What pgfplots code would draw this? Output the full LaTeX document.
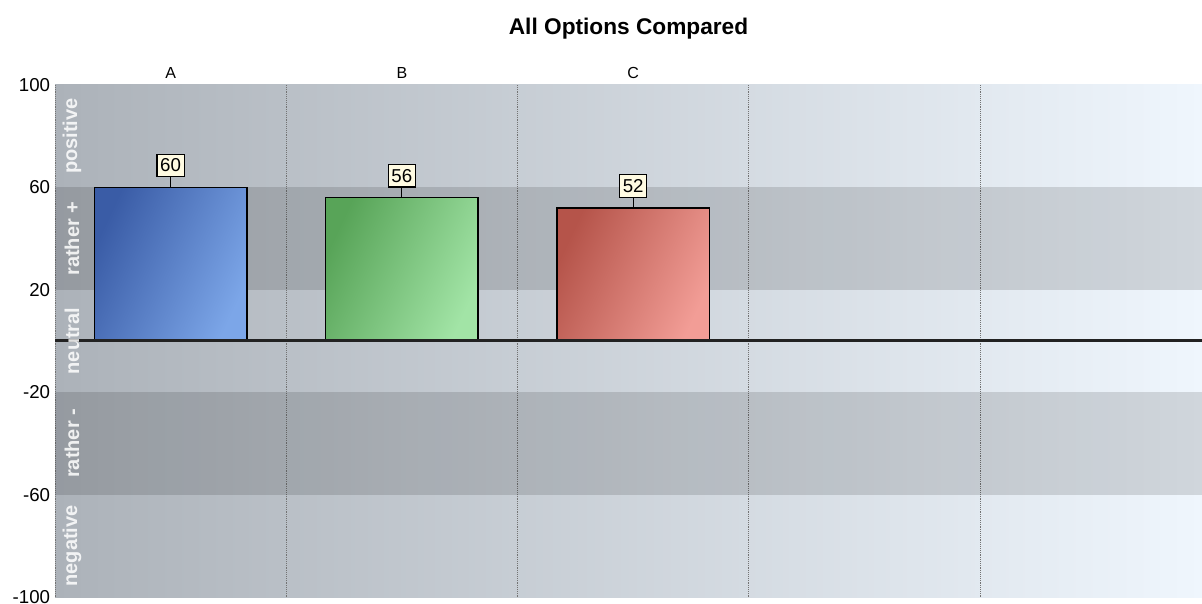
\documentclass[border=0pt]{standalone}
\usepackage{pgfplots}
\pgfplotsset{compat=1.18}
\usepackage{fontspec}
\setmainfont{Liberation Sans}
\definecolor{bgL}{HTML}{ACB2B9}
\definecolor{bgR}{HTML}{EFF6FD}
\definecolor{blueA}{HTML}{3A5CA6}
\definecolor{blueB}{HTML}{7CA6E8}
\definecolor{greenA}{HTML}{58A458}
\definecolor{greenB}{HTML}{A2E4A6}
\definecolor{redA}{HTML}{B5544A}
\definecolor{redB}{HTML}{F29D96}
\definecolor{cream}{HTML}{FFFBE2}
\definecolor{zeroline}{HTML}{222222}
\begin{document}
\begin{tikzpicture}
\useasboundingbox (-41.25pt,-4.5pt) rectangle (860.25pt,447.75pt);
\begin{axis}[
  at={(0pt,0pt)}, anchor=south west,
  scale only axis, width=860.25pt, height=384pt,
  xmin=0, xmax=4.96, ymin=-100, ymax=100,
  axis line style={draw=none},
  axis background/.style={shade, left color=bgL, right color=bgR},
  ytick={-100,-60,-20,20,60,100},
  xtick={0.5,1.5,2.5}, xticklabels={A,B,C},
  xticklabel pos=top,
  major tick length=0pt, minor tick length=0pt,
  minor xtick={0,1,2,3,4},
  xminorgrids,
  minor grid style={densely dotted, color=black!55, line width=0.75pt},
  /pgf/number format/assume math mode=true,
  yticklabel style={font=\fontsize{14}{16}\selectfont, inner sep=0pt, xshift=-3.5pt},
  xticklabel style={font=\fontsize{12}{14}\selectfont, inner sep=0pt, anchor=south, yshift=4.5pt},
  title={\bfseries All Options Compared},
  title style={font=\fontsize{17}{20}\selectfont, at={(0.5,1)}, anchor=center, yshift=36pt},
  clip=false,
  nodes near coords style={font=\fontsize{14}{16}\selectfont},
  every node near coord/.append style={
    draw=black, fill=cream, line width=0.9pt,
    inner xsep=2.5pt, inner ysep=0pt, minimum height=17pt,
    anchor=south, yshift=7.5pt
  },
  error bars/y dir=plus, error bars/y explicit,
  error bars/error mark=none,
  error bars/error bar style={black, line width=0.9pt},
]
% bands
\fill[black, opacity=0.13] (axis cs:0,20) rectangle (axis cs:4.96,60);
\fill[black, opacity=0.13] (axis cs:0,-60) rectangle (axis cs:4.96,-20);

% bars (stem of the value box drawn as an error bar of 3.9 units)
\addplot[ybar, bar width=0.66, bar shift=0pt, draw=black, line width=1.1pt,
  top color=blueA, bottom color=blueB, shading angle=65,
  nodes near coords] coordinates {(0.5,60) +- (0,3.9)};
\addplot[ybar, bar width=0.66, bar shift=0pt, draw=black, line width=1.1pt,
  top color=greenA, bottom color=greenB, shading angle=65,
  nodes near coords] coordinates {(1.5,56) +- (0,3.9)};
\addplot[ybar, bar width=0.66, bar shift=0pt, draw=black, line width=1.1pt,
  top color=redA, bottom color=redB, shading angle=65,
  nodes near coords] coordinates {(2.5,52) +- (0,3.9)};

% zero line
\addplot[zeroline, line width=2.25pt, no marks] coordinates {(0,0) (4.96,0)};

% band labels
\begin{scope}[every node/.style={rotate=90, text=white, opacity=0.85, font=\bfseries\fontsize{15}{18}\selectfont}]
\node at (axis cs:0.073,80) {positive};
\node at (axis cs:0.073,40) {rather +};
\node at (axis cs:0.073,0) {neutral};
\node at (axis cs:0.073,-40) {rather -};
\node at (axis cs:0.073,-80) {negative};
\end{scope}
\end{axis}
\end{tikzpicture}
\end{document}
